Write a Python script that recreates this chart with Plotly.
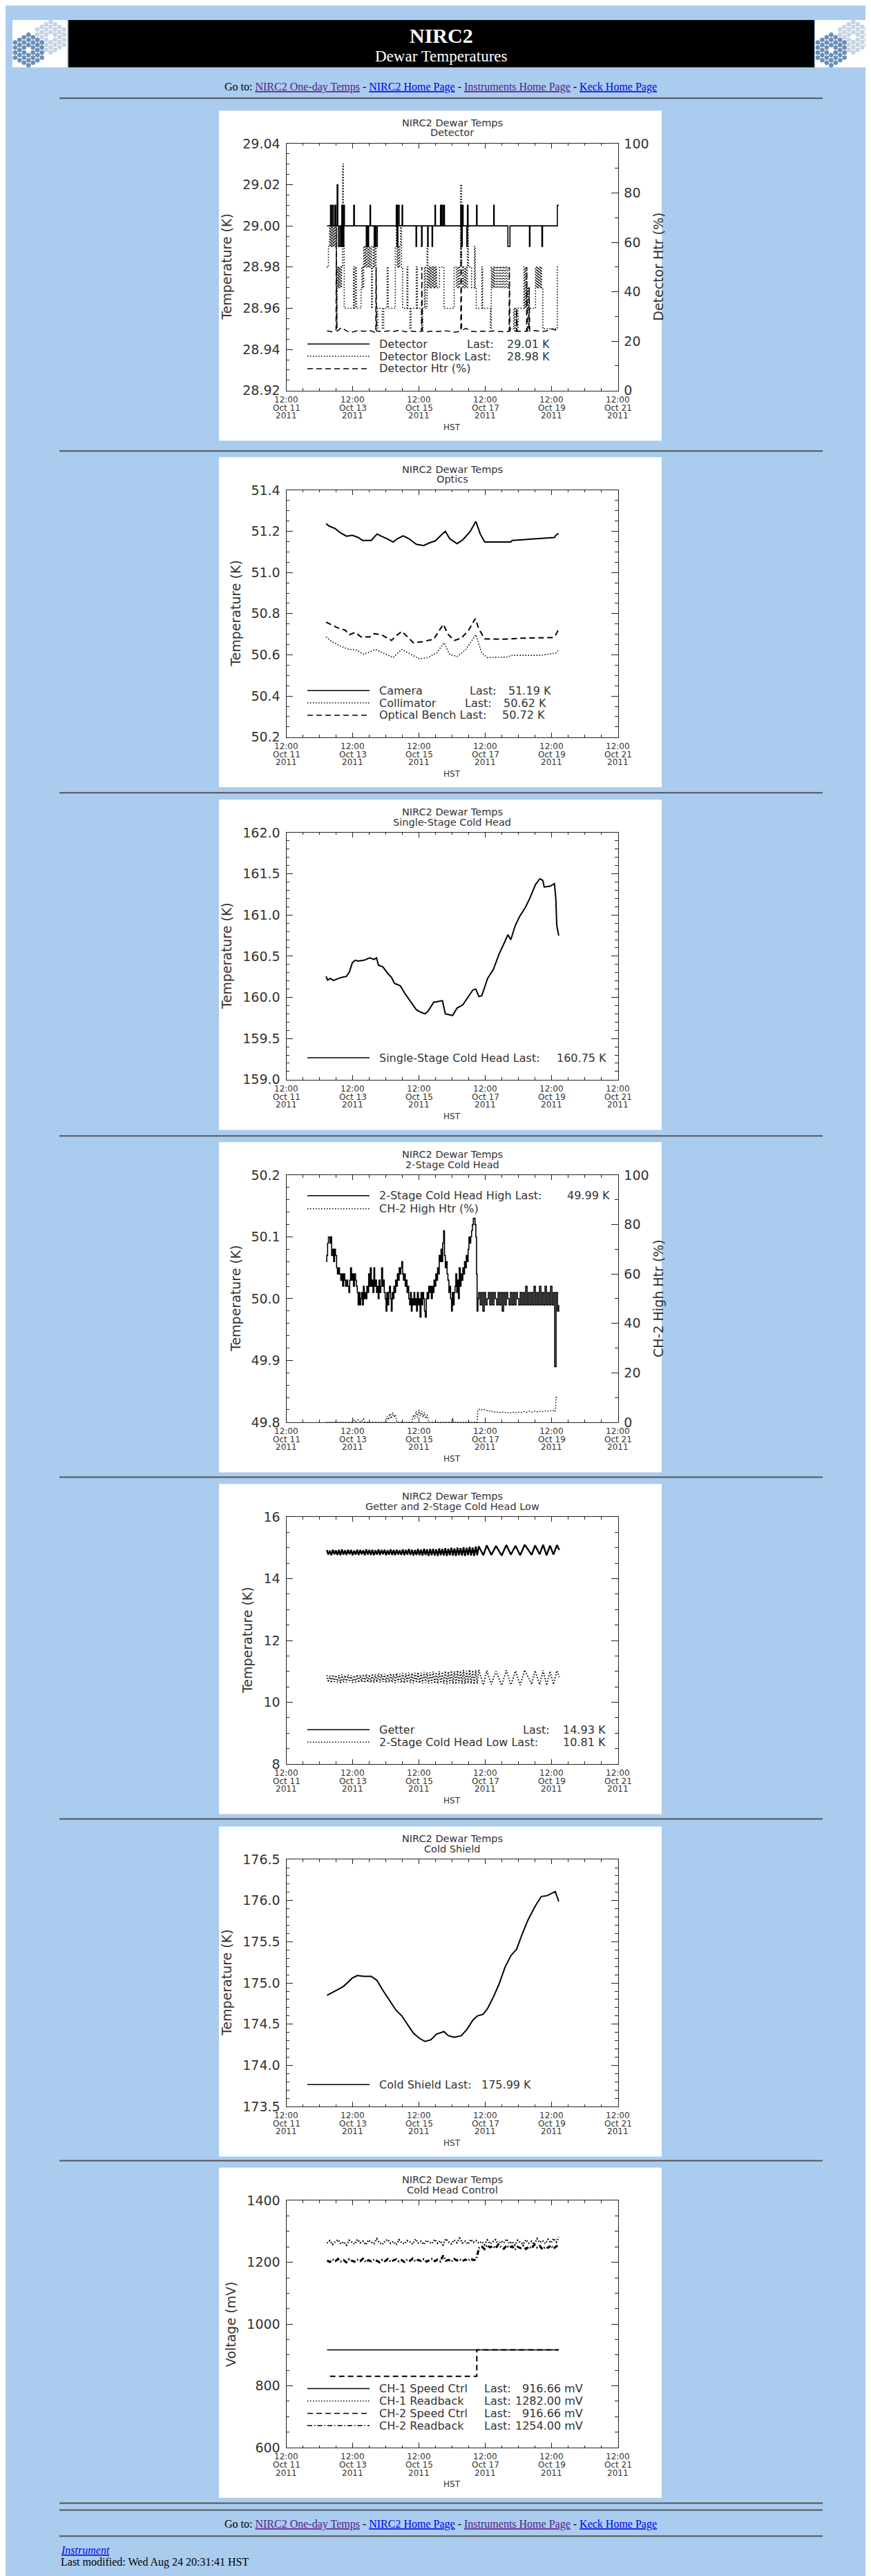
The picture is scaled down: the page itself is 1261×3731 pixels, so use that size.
import pandas as pd
import plotly.graph_objects as go

W, H = 1261, 3731
PAGE_BG = "#AACCEE"
AX = "#222222"
TXT = "#333333"
PLOT_FONT = "DejaVu Sans"
SERIF = "Liberation Serif"
BASE = pd.Timestamp("2011-10-11 12:00")   # all series times are hours after this

# ---- x tick labels (shared by every panel)
TICK_DATES = ["2011-10-11 12:00", "2011-10-13 12:00", "2011-10-15 12:00",
              "2011-10-17 12:00", "2011-10-19 12:00", "2011-10-21 12:00"]
TICK_TIME = ["12:00", "12:00", "12:00", "12:00", "12:00", "12:00"]
TICK_DAY = ["Oct 11", "Oct 13", "Oct 15", "Oct 17", "Oct 19", "Oct 21"]
TICK_YEAR = ["2011", "2011", "2011", "2011", "2011", "2011"]

# ---- y tick labels
P1_YTICKS = [28.92, 28.94, 28.96, 28.98, 29.00, 29.02, 29.04]
PCT_TICKS = [0, 20, 40, 60, 80, 100]
P2_YTICKS = [50.2, 50.4, 50.6, 50.8, 51.0, 51.2, 51.4]
P3_YTICKS = [159.0, 159.5, 160.0, 160.5, 161.0, 161.5, 162.0]
P4_YTICKS = [49.8, 49.9, 50.0, 50.1, 50.2]
P5_YTICKS = [8, 10, 12, 14, 16]
P6_YTICKS = [173.5, 174.0, 174.5, 175.0, 175.5, 176.0, 176.5]
P7_YTICKS = [600, 800, 1000, 1200, 1400]

# ---- panel 1: detector
DET_T = [29.5, 32.0, 32.8, 33.7, 34.1, 35.2, 35.8, 36.8, 37.3, 37.7,
         38.7, 39.6, 40.2, 41.0, 41.7, 42.1, 48.8, 49.3, 57.9, 58.5,
         58.9, 59.6, 60.6, 61.0, 63.6, 64.4, 65.0, 65.9, 79.6, 80.2,
         80.8, 81.7, 83.8, 84.2, 93.9, 94.3, 97.9, 98.3, 102.3, 102.7,
         105.5, 105.9, 107.6, 108.0, 111.6, 112.4, 112.8, 113.7, 114.1, 114.5,
         126.3, 126.7, 127.4, 128.0, 130.7, 131.1, 131.6, 137.7, 138.1, 150.1,
         150.5, 160.4, 161.9, 176.0, 176.4, 185.0, 185.5, 196.2, 197.2]
DET_K = [29.00, 29.01, 29.00, 29.01, 29.00, 29.01, 29.00, 29.02, 29.00, 28.99,
         29.00, 28.99, 29.01, 28.99, 29.01, 29.00, 29.01, 29.00, 28.99, 29.00,
         28.99, 29.00, 29.01, 29.00, 28.99, 29.00, 28.99, 29.00, 29.01, 28.99,
         29.01, 29.00, 29.01, 29.00, 28.99, 29.00, 28.99, 29.00, 28.99, 29.00,
         28.99, 29.00, 29.01, 29.00, 29.01, 29.00, 29.01, 29.00, 29.01, 29.00,
         29.01, 28.99, 29.01, 29.00, 28.99, 29.01, 29.00, 29.01, 29.00, 29.01,
         29.00, 28.99, 29.00, 28.99, 29.00, 28.99, 29.00, 29.01, 29.01]

BLOCK_T = [29.3, 30.5, 31.4, 31.8, 32.4, 32.8, 33.5, 33.9, 34.5, 34.9,
           35.6, 36.2, 36.8, 37.5, 37.9, 38.5, 38.9, 39.6, 40.0, 40.8,
           41.3, 41.9, 48.6, 49.3, 50.1, 50.7, 54.1, 54.7, 55.4, 56.0,
           56.6, 57.3, 57.9, 58.5, 59.2, 59.8, 60.4, 61.0, 61.7, 62.3,
           62.9, 63.6, 64.2, 65.0, 66.1, 69.5, 70.5, 73.0, 73.7, 78.9,
           79.6, 80.2, 80.8, 81.5, 82.1, 82.7, 83.4, 84.2, 87.4, 88.0,
           89.5, 90.3, 94.1, 94.9, 97.9, 98.7, 100.0, 100.6, 101.9, 102.5,
           103.1, 103.8, 104.4, 105.0, 105.7, 106.3, 106.9, 107.6, 108.2, 108.8,
           110.9, 114.1, 121.5, 123.1, 124.0, 124.6, 125.5, 126.1, 126.9, 127.6,
           128.2, 129.0, 129.7, 130.3, 131.1, 131.8, 134.1, 136.2, 136.8, 137.5,
           141.5, 142.1, 147.8, 148.4, 149.0, 149.7, 150.3, 150.9, 152.0, 153.0,
           154.1, 155.1, 156.2, 157.2, 158.3, 159.3, 160.4, 161.5, 164.6, 165.2,
           166.1, 166.7, 167.8, 172.0, 172.6, 173.2, 173.9, 174.5, 175.1, 175.8,
           180.4, 181.0, 181.7, 182.3, 182.9, 183.6, 184.2, 184.8, 185.7, 196.2,
           197.2]
BLOCK_K = [28.98, 28.99, 29.00, 28.99, 29.00, 28.99, 29.00, 28.99, 29.00, 28.99,
           29.00, 28.95, 28.98, 28.97, 28.98, 28.97, 28.98, 28.97, 28.98, 29.03,
           28.99, 28.96, 28.98, 28.96, 28.98, 28.96, 28.97, 28.98, 28.97, 28.99,
           28.98, 28.99, 28.98, 28.99, 28.98, 28.99, 28.98, 28.99, 28.96, 28.98,
           28.99, 28.98, 28.99, 28.95, 28.96, 28.95, 28.96, 28.98, 28.96, 28.99,
           29.00, 28.98, 28.99, 28.98, 28.99, 29.00, 28.98, 28.96, 28.98, 28.96,
           28.95, 28.96, 28.98, 28.96, 28.95, 28.96, 28.98, 28.96, 28.99, 28.97,
           28.98, 28.97, 28.98, 28.97, 28.98, 28.97, 28.98, 28.97, 28.98, 28.97,
           28.98, 28.96, 28.98, 28.97, 28.98, 28.97, 28.98, 29.02, 28.98, 28.97,
           28.98, 28.97, 28.98, 28.97, 29.00, 28.98, 28.97, 28.99, 28.97, 28.96,
           28.98, 28.96, 28.95, 28.98, 28.97, 28.98, 28.97, 28.98, 28.97, 28.98,
           28.97, 28.98, 28.97, 28.98, 28.97, 28.98, 28.97, 28.95, 28.96, 28.95,
           28.96, 28.95, 28.96, 28.98, 28.96, 28.98, 28.96, 28.97, 28.95, 28.96,
           28.98, 28.97, 28.98, 28.97, 28.98, 28.97, 28.98, 28.97, 28.95, 28.98,
           28.98]

HTR_T = [29.5, 33.0, 36.0, 36.2, 36.6, 40.0, 44.0, 48.0, 52.0, 56.0,
         60.0, 64.8, 65.0, 65.4, 70.0, 74.0, 78.0, 82.0, 86.0, 90.0,
         94.0, 97.9, 98.1, 98.5, 102.0, 106.0, 110.0, 114.0, 118.0, 122.0,
         126.3, 126.5, 126.9, 130.0, 134.0, 138.0, 142.0, 146.0, 150.0, 154.0,
         158.0, 161.3, 161.5, 161.9, 165.0, 166.6, 166.8, 167.2, 172.0, 173.9,
         174.1, 174.5, 175.6, 175.8, 176.2, 180.0, 184.0, 188.0, 192.0, 196.0, 197.2]
HTR_PCT = [24.2, 23.8, 24.5, 66.0, 24.0, 25.5, 24.0, 23.7, 24.3, 24.0,
           24.4, 23.5, 50.0, 24.1, 23.9, 24.2, 24.0, 24.5, 23.8, 24.1,
           23.9, 24.0, 50.0, 24.2, 23.8, 24.1, 23.9, 24.3, 24.0, 23.7,
           24.0, 66.0, 24.4, 25.2, 24.0, 23.8, 24.1, 23.9, 24.2, 24.0,
           23.8, 24.0, 50.0, 24.2, 24.3, 24.0, 33.0, 24.0, 24.1, 24.0,
           50.0, 24.2, 24.0, 42.0, 24.1, 24.3, 23.9, 24.1, 25.0, 24.4, 24.0]

# ---- panel 2: optics
CAM_T = [28.8, 30.9, 35.2, 39.4, 43.6, 47.8, 52.0, 55.2, 61.5, 65.7,
         68.8, 73.0, 77.3, 80.4, 84.6, 88.8, 94.1, 99.4, 103.6, 107.8,
         112.0, 115.1, 118.3, 123.6, 127.8, 133.0, 137.2, 140.4, 143.6, 162.5,
         163.6, 182.5, 194.1, 195.1, 197.2]
CAM_K = [51.237, 51.226, 51.214, 51.192, 51.176, 51.181, 51.170, 51.156, 51.156, 51.187,
         51.176, 51.164, 51.148, 51.164, 51.178, 51.164, 51.137, 51.131, 51.144, 51.153,
         51.181, 51.200, 51.164, 51.140, 51.159, 51.198, 51.248, 51.187, 51.148, 51.148,
         51.156, 51.164, 51.170, 51.181, 51.190]
COLL_T = [28.8, 33.0, 39.4, 45.7, 49.9, 56.2, 64.6, 71.9, 77.3, 83.6,
          89.9, 96.2, 102.5, 108.8, 114.1, 118.3, 123.6, 129.9, 137.2, 141.5,
          145.7, 159.4, 163.6, 184.6, 195.1, 196.8]
COLL_K = [50.687, 50.664, 50.642, 50.626, 50.626, 50.603, 50.626, 50.603, 50.587, 50.626,
          50.603, 50.581, 50.587, 50.609, 50.659, 50.603, 50.592, 50.626, 50.698, 50.609,
          50.587, 50.589, 50.598, 50.598, 50.609, 50.620]
BENCH_T = [28.8, 32.0, 37.3, 42.6, 45.7, 49.9, 54.1, 60.4, 63.6, 68.8,
           76.2, 79.4, 83.6, 87.8, 92.0, 98.3, 106.7, 110.9, 113.7, 117.3,
           121.5, 126.7, 132.0, 136.8, 139.4, 143.6, 157.2, 169.9, 193.0, 195.1, 196.8]
BENCH_K = [50.759, 50.748, 50.731, 50.720, 50.698, 50.709, 50.687, 50.687, 50.703, 50.698,
           50.670, 50.692, 50.714, 50.687, 50.659, 50.664, 50.676, 50.720, 50.748, 50.698,
           50.670, 50.681, 50.720, 50.776, 50.726, 50.678, 50.676, 50.681, 50.684, 50.698, 50.720]

# ---- panel 3: single-stage cold head
SS_T = [28.8, 29.9, 32.0, 34.1, 39.4, 43.6, 45.7, 47.8, 49.9, 52.0,
        56.2, 60.4, 63.6, 65.3, 66.7, 69.9, 73.0, 76.2, 78.3, 82.5,
        85.7, 89.9, 94.1, 97.3, 100.4, 102.5, 106.7, 113.0, 115.1, 120.4,
        123.6, 127.8, 132.0, 135.1, 137.2, 139.4, 141.5, 145.7, 149.9, 154.1,
        157.2, 160.4, 162.5, 165.7, 168.8, 173.0, 176.2, 180.4, 183.6, 185.7,
        186.7, 190.9, 194.1, 195.1, 195.8, 197.2]
SS_K = [160.256, 160.21, 160.23, 160.205, 160.24, 160.255, 160.31, 160.42, 160.45, 160.44,
        160.45, 160.48, 160.46, 160.48, 160.39, 160.37, 160.30, 160.24, 160.17, 160.14,
        160.05, 159.95, 159.85, 159.82, 159.80, 159.83, 159.94, 159.96, 159.80, 159.78,
        159.87, 159.91, 160.02, 160.09, 160.10, 160.01, 160.02, 160.23, 160.34, 160.53,
        160.64, 160.76, 160.70, 160.87, 160.98, 161.09, 161.20, 161.37, 161.44, 161.42,
        161.34, 161.35, 161.38, 161.20, 160.87, 160.75]

# ---- panel 4: 2-stage cold head high + heater
CH2HI_T = [28.8, 29.3, 29.9, 30.5, 31.6, 32.2, 32.8, 33.7, 34.3, 34.9,
           35.6, 36.4, 37.0, 37.7, 38.5, 39.4, 40.0, 40.8, 41.5, 42.3,
           42.9, 43.8, 44.4, 45.3, 45.9, 46.5, 47.2, 47.8, 48.6, 49.3,
           50.1, 50.7, 51.4, 52.0, 52.6, 53.3, 53.9, 54.5, 55.2, 55.8,
           56.4, 57.0, 57.7, 58.3, 58.9, 59.6, 60.2, 60.8, 61.5, 62.1,
           62.7, 63.4, 64.0, 64.6, 65.3, 65.9, 66.5, 67.1, 67.8, 68.4,
           69.0, 69.7, 70.3, 70.9, 71.6, 72.2, 72.8, 73.5, 74.1, 74.7,
           75.4, 76.0, 76.6, 77.3, 77.9, 78.5, 79.1, 79.8, 80.4, 81.0,
           81.7, 82.3, 82.9, 83.6, 84.2, 84.8, 85.5, 86.1, 86.7, 87.4,
           88.0, 88.6, 89.3, 89.9, 90.5, 91.1, 91.8, 92.4, 93.0, 93.7,
           94.3, 94.9, 95.6, 96.2, 96.8, 97.5, 98.1, 98.7, 99.4, 100.0,
           100.6, 101.3, 101.9, 102.5, 103.1, 103.8, 104.4, 105.0, 105.7, 106.3,
           106.9, 107.6, 108.2, 108.8, 109.5, 110.1, 110.7, 111.4, 112.0, 112.6,
           113.2, 113.9, 114.5, 115.1, 115.8, 116.4, 117.0, 117.7, 118.3, 118.9,
           119.6, 120.2, 120.8, 121.5, 122.1, 122.7, 123.4, 124.0, 124.6, 125.2,
           125.9, 126.5, 127.1, 127.8, 128.4, 129.0, 129.7, 130.3, 130.9, 131.6,
           132.2, 132.8, 133.5, 134.1, 134.7, 135.4, 136.6, 137.2, 137.7, 138.1,
           138.7, 139.3, 140.3, 141.3, 142.3, 143.3, 144.3, 145.3, 146.3, 147.3,
           148.3, 149.3, 150.3, 151.3, 152.3, 153.3, 154.3, 155.3, 156.3, 157.3,
           158.3, 159.3, 160.3, 161.3, 162.3, 163.3, 164.3, 165.3, 166.3, 167.3,
           168.3, 169.3, 170.3, 171.3, 172.3, 173.3, 174.3, 175.3, 176.3, 177.3,
           178.3, 179.3, 180.3, 181.3, 182.3, 183.3, 184.3, 185.3, 186.3, 187.3,
           188.3, 189.3, 190.3, 191.3, 192.3, 193.3, 194.3, 195.3, 196.3, 197.2]
CH2HI_K = [50.06, 50.07, 50.09, 50.10, 50.09, 50.10, 50.07, 50.08, 50.06, 50.08,
           50.07, 50.05, 50.04, 50.05, 50.04, 50.03, 50.04, 50.02, 50.04, 50.03,
           50.02, 50.03, 50.02, 50.01, 50.03, 50.05, 50.03, 50.04, 50.02, 50.04,
           50.03, 50.02, 50.01, 49.99, 50.01, 49.99, 50.00, 50.01, 49.99, 50.02,
           50.00, 50.01, 50.00, 50.02, 50.01, 50.04, 50.02, 50.05, 50.02, 50.03,
           50.01, 50.05, 50.02, 50.03, 50.01, 50.02, 50.00, 50.03, 50.01, 50.02,
           50.05, 50.02, 50.03, 50.01, 50.00, 49.98, 50.01, 49.99, 50.01, 50.02,
           50.00, 49.98, 50.01, 50.00, 50.02, 50.01, 50.03, 50.02, 50.04, 50.03,
           50.05, 50.04, 50.05, 50.06, 50.04, 50.03, 50.04, 50.02, 50.03, 50.01,
           50.02, 50.00, 49.99, 50.01, 49.98, 50.00, 49.99, 50.01, 49.99, 50.00,
           49.98, 50.01, 49.99, 50.00, 49.97, 50.01, 49.99, 50.01, 50.00, 49.98,
           49.97, 50.00, 50.01, 50.00, 50.02, 50.01, 50.02, 50.00, 50.02, 50.01,
           50.03, 50.02, 50.04, 50.03, 50.05, 50.04, 50.07, 50.06, 50.08, 50.06,
           50.09, 50.11, 50.07, 50.05, 50.06, 50.04, 50.03, 50.01, 50.02, 50.00,
           49.98, 50.01, 49.99, 50.01, 50.02, 50.04, 50.01, 50.03, 50.00, 50.05,
           50.02, 50.04, 50.03, 50.05, 50.04, 50.06, 50.05, 50.07, 50.06, 50.08,
           50.10, 50.09, 50.10, 50.11, 50.12, 50.13, 50.12, 50.10, 50.04, 49.98,
           50.00, 50.01, 49.99, 50.01, 49.98, 50.01, 49.99, 50.00, 50.01, 49.99,
           50.01, 49.99, 50.01, 50.00, 49.99, 50.01, 49.99, 50.01, 49.98, 50.01,
           49.99, 50.01, 50.00, 49.99, 50.01, 49.99, 50.01, 49.99, 50.01, 50.00,
           49.99, 50.01, 49.99, 50.01, 49.99, 50.02, 49.99, 50.01, 49.99, 50.01,
           49.99, 50.02, 49.99, 50.01, 49.99, 50.02, 49.99, 50.01, 49.99, 50.02,
           49.99, 50.01, 49.99, 50.02, 49.99, 50.01, 49.89, 50.01, 49.98, 49.99]

CH2HTR_T = [28.8, 47.5, 48.5, 50.0, 52.0, 54.0, 56.0, 57.0, 72.0, 73.0,
            74.0, 75.0, 76.0, 77.0, 78.0, 79.0, 80.0, 91.0, 92.0, 93.0,
            94.0, 95.0, 96.0, 97.0, 98.0, 99.0, 100.0, 101.0, 102.0, 103.0,
            120.0, 120.4, 121.0, 138.2, 138.6, 140.0, 142.0, 144.0, 146.0, 148.0,
            150.0, 152.0, 154.0, 156.0, 158.0, 160.0, 162.0, 164.0, 166.0, 168.0,
            170.0, 172.0, 174.0, 176.0, 178.0, 180.0, 182.0, 184.0, 186.0, 188.0,
            190.0, 192.0, 194.0, 194.6, 195.4, 195.8]
CH2HTR_PCT = [0, 0, 1.2, 0, 1.0, 0, 1.3, 0, 0, 2.5,
              1.0, 3.5, 1.5, 4.0, 2.0, 3.0, 0, 0, 3.0, 1.5,
              4.5, 2.0, 5.0, 2.5, 4.5, 2.0, 4.0, 1.5, 3.0, 0,
              0, 1.8, 0, 0, 5.0, 5.3, 4.9, 5.1, 4.5, 4.6,
              4.0, 4.3, 3.8, 4.1, 3.9, 4.0, 3.7, 4.0, 3.8, 4.1,
              3.9, 4.3, 4.0, 4.4, 4.1, 4.5, 4.2, 4.5, 4.3, 4.6,
              4.4, 4.8, 4.6, 4.3, 10.5, 9.8]

# ---- panel 5: getter and 2-stage cold head low
GETTER_T = [29.3, 30.4, 31.5, 32.6, 33.7, 34.8, 35.9, 37.0, 38.1, 39.2,
            40.3, 41.4, 42.5, 43.6, 44.7, 45.8, 46.9, 48.0, 49.1, 50.2,
            51.3, 52.4, 53.5, 54.6, 55.7, 56.8, 57.9, 59.0, 60.1, 61.2,
            62.3, 63.4, 64.5, 65.6, 66.7, 67.8, 68.9, 70.0, 71.1, 72.2,
            73.3, 74.4, 75.5, 76.6, 77.7, 78.8, 79.9, 81.0, 82.1, 83.2,
            84.3, 85.4, 86.5, 87.6, 88.7, 89.8, 90.9, 92.0, 93.1, 94.2,
            95.3, 96.4, 97.5, 98.6, 99.7, 100.8, 101.9, 103.0, 104.1, 105.2,
            106.3, 107.4, 108.5, 109.6, 110.7, 111.8, 112.9, 114.0, 115.1, 116.2,
            117.3, 118.4, 119.5, 120.6, 121.7, 122.8, 123.9, 125.0, 126.1, 127.2,
            128.3, 129.4, 130.5, 131.6, 132.7, 133.8, 134.9, 136.0, 137.1, 138.2,
            139.3, 142.6, 145.1, 148.4, 151.8, 155.9, 159.3, 162.6, 165.9, 169.3,
            172.6, 177.6, 180.1, 183.4, 185.9, 188.4, 190.9, 193.4, 195.9, 197.6]
GETTER_K = [14.93, 14.78, 14.91, 14.76, 14.94, 14.79, 14.92, 14.77, 14.93, 14.76,
            14.95, 14.78, 14.92, 14.77, 14.94, 14.79, 14.93, 14.76, 14.91, 14.78,
            14.94, 14.77, 14.93, 14.79, 14.92, 14.76, 14.95, 14.78, 14.93, 14.77,
            14.94, 14.76, 14.92, 14.78, 14.95, 14.77, 14.93, 14.79, 14.94, 14.76,
            14.92, 14.78, 14.95, 14.77, 14.93, 14.76, 14.94, 14.78, 14.92, 14.77,
            14.95, 14.76, 14.93, 14.78, 14.96, 14.77, 14.94, 14.75, 14.93, 14.77,
            14.96, 14.76, 14.94, 14.75, 14.97, 14.77, 14.95, 14.74, 14.96, 14.76,
            14.97, 14.75, 14.95, 14.74, 14.98, 14.76, 14.96, 14.75, 14.99, 14.74,
            14.97, 14.76, 15.00, 14.75, 14.98, 14.74, 15.01, 14.76, 14.99, 14.75,
            15.02, 14.74, 15.00, 14.76, 15.03, 14.75, 15.01, 14.74, 15.04, 14.76,
            15.05, 14.76, 15.08, 14.77, 15.06, 14.75, 15.09, 14.78, 15.07, 14.76,
            15.10, 14.77, 15.08, 14.79, 15.10, 14.76, 15.07, 14.78, 15.09, 14.93]
CH2LO_K = [10.88, 10.65, 10.86, 10.63, 10.89, 10.66, 10.87, 10.64, 10.88, 10.62,
           10.90, 10.65, 10.87, 10.64, 10.89, 10.66, 10.88, 10.63, 10.86, 10.65,
           10.89, 10.64, 10.88, 10.66, 10.90, 10.63, 10.91, 10.65, 10.89, 10.64,
           10.92, 10.63, 10.90, 10.65, 10.93, 10.64, 10.91, 10.66, 10.92, 10.63,
           10.90, 10.65, 10.93, 10.64, 10.91, 10.62, 10.94, 10.65, 10.92, 10.63,
           10.95, 10.62, 10.93, 10.64, 10.96, 10.63, 10.94, 10.61, 10.95, 10.63,
           10.97, 10.62, 10.95, 10.61, 10.98, 10.63, 10.96, 10.60, 10.97, 10.62,
           10.99, 10.61, 10.97, 10.60, 11.00, 10.62, 10.98, 10.60, 11.01, 10.59,
           10.99, 10.61, 11.02, 10.60, 11.00, 10.59, 11.03, 10.61, 11.01, 10.60,
           11.04, 10.59, 11.02, 10.61, 11.05, 10.60, 11.03, 10.58, 11.04, 10.60,
           11.05, 10.56, 11.02, 10.58, 11.00, 10.55, 11.03, 10.57, 11.01, 10.56,
           11.04, 10.58, 11.02, 10.57, 11.03, 10.55, 11.00, 10.58, 11.02, 10.81]

# ---- panel 6: cold shield
CS_T = [29.5, 33.0, 37.3, 41.5, 44.6, 47.8, 51.4, 56.2, 61.5, 65.7,
        69.9, 75.2, 79.4, 83.6, 87.8, 92.0, 96.2, 100.4, 104.6, 108.8,
        114.1, 117.3, 121.5, 126.7, 130.9, 135.1, 138.3, 142.5, 145.7, 149.9,
        154.1, 158.3, 162.5, 166.7, 170.9, 175.1, 180.4, 184.6, 188.8, 193.0,
        194.7, 197.2]
CS_K = [174.85, 174.88, 174.92, 174.96, 175.01, 175.06, 175.09, 175.08, 175.08, 175.03,
        174.91, 174.77, 174.67, 174.60, 174.49, 174.39, 174.33, 174.29, 174.31, 174.38,
        174.41, 174.36, 174.34, 174.36, 174.44, 174.55, 174.60, 174.62, 174.69, 174.83,
        174.99, 175.19, 175.33, 175.41, 175.60, 175.77, 175.94, 176.05, 176.06, 176.10,
        176.11, 175.99]

# ---- panel 7: cold head control
SPD1_T = [29.5, 197.2]
SPD1_MV = [916.66, 916.66]
SPD2_T = [31.6, 137.9, 137.9, 197.2]
SPD2_MV = [831.0, 831.0, 916.66, 916.66]
RB_T = [29.5, 31.5, 33.5, 35.5, 37.5, 39.5, 41.5, 43.5, 45.5, 47.5,
        49.5, 51.5, 53.5, 55.5, 57.5, 59.5, 61.5, 63.5, 65.5, 67.5,
        69.5, 71.5, 73.5, 75.5, 77.5, 79.5, 81.5, 83.5, 85.5, 87.5,
        89.5, 91.5, 93.5, 95.5, 97.5, 99.5, 101.5, 103.5, 105.5, 107.5,
        109.5, 111.5, 113.5, 115.5, 117.5, 119.5, 121.5, 123.5, 125.5, 127.5,
        129.5, 131.5, 133.5, 135.5, 137.5, 139.5, 141.5, 143.5, 145.5, 147.5,
        149.5, 151.5, 153.5, 155.5, 157.5, 159.5, 161.5, 163.5, 165.5, 167.5,
        169.5, 171.5, 173.5, 175.5, 177.5, 179.5, 181.5, 183.5, 185.5, 187.5,
        189.5, 191.5, 193.5, 195.5, 197.2]
RB1_MV = [1262, 1270, 1258, 1267, 1273, 1260, 1266, 1256, 1271, 1264,
          1259, 1274, 1263, 1268, 1257, 1272, 1265, 1261, 1276, 1263,
          1258, 1269, 1274, 1262, 1267, 1257, 1273, 1264, 1260, 1270,
          1266, 1259, 1275, 1263, 1268, 1258, 1271, 1265, 1261, 1274,
          1262, 1269, 1257, 1276, 1266, 1260, 1272, 1264, 1278, 1263,
          1268, 1259, 1274, 1265, 1270, 1262, 1267, 1257, 1272, 1260,
          1266, 1273, 1258, 1269, 1263, 1275, 1261, 1267, 1256, 1271,
          1264, 1259, 1273, 1262, 1268, 1258, 1276, 1264, 1270, 1261,
          1274, 1263, 1277, 1266, 1282]
RB2_MV = [1206, 1201, 1209, 1204, 1211, 1203, 1207, 1200, 1210, 1205,
          1202, 1208, 1204, 1212, 1201, 1207, 1203, 1209, 1205, 1200,
          1208, 1204, 1211, 1202, 1206, 1210, 1203, 1207, 1201, 1209,
          1205, 1212, 1203, 1208, 1204, 1210, 1202, 1207, 1211, 1204,
          1209, 1203, 1222, 1205, 1208, 1202, 1211, 1206, 1210, 1204,
          1209, 1205, 1212, 1207, 1210, 1246, 1251, 1243, 1256, 1248,
          1253, 1245, 1258, 1249, 1244, 1255, 1247, 1252, 1241, 1250,
          1246, 1254, 1243, 1251, 1245, 1257, 1248, 1253, 1242, 1250,
          1247, 1255, 1244, 1252, 1254]

for a, b in [(DET_T, DET_K), (BLOCK_T, BLOCK_K), (HTR_T, HTR_PCT), (CAM_T, CAM_K),
             (COLL_T, COLL_K), (BENCH_T, BENCH_K), (SS_T, SS_K), (CH2HI_T, CH2HI_K),
             (CH2HTR_T, CH2HTR_PCT), (GETTER_T, GETTER_K), (GETTER_T, CH2LO_K),
             (CS_T, CS_K), (RB_T, RB1_MV), (RB_T, RB2_MV)]:
    assert len(a) == len(b), (len(a), len(b))

# ---- page geometry (pixels)
PANEL_TOPS = [142, 647, 1146, 1645, 2143, 2642, 3139]
RULES = [124, 638, 1136, 1636, 2133, 2631, 3129, 3628, 3638, 3676]
PLOT_L, PLOT_R = 406.5, 886.5
LEG_SIZE = 16

DOT = "1.5px,2.5px"
DASH = "8px,5px"
DASHDOT = "7px,3px,1.5px,3px"
STYLE = {"solid": None, "dot": DOT, "dash": DASH, "dashdot": DASHDOT}

PANELS = [
    dict(sub="Detector", ytitle="Temperature (K)", ytx=320, ticks=P1_YTICKS, fmt=".2f", minor=0.005),
    dict(sub="Optics", ytitle="Temperature (K)", ytx=333, ticks=P2_YTICKS, fmt=".1f", minor=0.05),
    dict(sub="Single-Stage Cold Head", ytitle="Temperature (K)", ytx=320, ticks=P3_YTICKS, fmt=".1f", minor=0.1),
    dict(sub="2-Stage Cold Head", ytitle="Temperature (K)", ytx=333, ticks=P4_YTICKS, fmt=".1f", minor=0.02),
    dict(sub="Getter and 2-Stage Cold Head Low", ytitle="Temperature (K)", ytx=350, ticks=P5_YTICKS, fmt="d", minor=0.5),
    dict(sub="Cold Shield", ytitle="Temperature (K)", ytx=320, ticks=P6_YTICKS, fmt=".1f", minor=0.1),
    dict(sub="Cold Head Control", ytitle="Voltage (mV)", ytx=326, ticks=P7_YTICKS, fmt="d", minor=50),
]

# (style, label, x of a padded "Last:" or None, value text, right end of value)
LEGENDS = [
    [("solid", "Detector", 666, "29.01 K", 790), ("dot", "Detector Block Last:", None, "28.98 K", 790),
     ("dash", "Detector Htr (%)", None, "", None)],
    [("solid", "Camera", 669.5, "51.19 K", 791.6), ("dot", "Collimator", 663, "50.62 K", 785),
     ("dash", "Optical Bench Last:", None, "50.72 K", 783)],
    [("solid", "Single-Stage Cold Head Last:", None, "160.75 K", 872)],
    [("solid", "2-Stage Cold Head High Last:", None, "49.99 K", 876.6), ("dot", "CH-2 High Htr (%)", None, "", None)],
    [("solid", "Getter", 747, "14.93 K", 871), ("dot", "2-Stage Cold Head Low Last:", None, "10.81 K", 871)],
    [("solid", "Cold Shield Last:", None, "175.99 K", 763)],
    [("solid", "CH-1 Speed Ctrl", 690.6, "916.66 mV", 838), ("dot", "CH-1 Readback", 690.6, "1282.00 mV", 838),
     ("dash", "CH-2 Speed Ctrl", 690.6, "916.66 mV", 838), ("dashdot", "CH-2 Readback", 690.6, "1254.00 mV", 838)],
]
LEGEND_AT_TOP = [False, False, False, True, False, False, False]


def X(p):
    return p / W


def Y(p):
    return 1 - p / H


def when(hours):
    return [BASE + pd.Timedelta(hours=h) for h in hours]


annotations = []
shapes = []


def text(x, y, s, size, color=TXT, xanchor="center", yanchor="middle", angle=0, family=PLOT_FONT):
    annotations.append(dict(x=X(x), y=Y(y), xref="paper", yref="paper", text=s, showarrow=False,
                            xanchor=xanchor, yanchor=yanchor, textangle=angle,
                            font=dict(family=family, size=size, color=color)))


def rect(x0, y0, x1, y1, color):
    shapes.append(dict(type="rect", xref="paper", yref="paper", x0=X(x0), x1=X(x1), y0=Y(y1), y1=Y(y0),
                       fillcolor=color, line=dict(width=0), layer="below"))


def hline(x0, x1, y, color, width, dash=None):
    shapes.append(dict(type="line", xref="paper", yref="paper", x0=X(x0), x1=X(x1), y0=Y(y), y1=Y(y),
                       line=dict(color=color, width=width, dash=dash), layer="above"))


fig = go.Figure()


def line(k, t, v, dash=None, width=2.0, shape="linear", yaxis=None):
    sx = "" if k == 1 else str(k)
    fig.add_trace(go.Scatter(x=when(t), y=v, mode="lines", xaxis="x" + sx, yaxis=yaxis or ("y" + sx),
                             line=dict(color="black", width=width, dash=dash, shape=shape),
                             showlegend=False, hoverinfo="skip"))


# panel traces
line(1, DET_T, DET_K, width=1.6, shape="hv")
line(1, BLOCK_T, BLOCK_K, dash=DOT, width=1.6, shape="hv")
line(1, HTR_T, HTR_PCT, dash=DASH, width=1.5, yaxis="y8")
line(2, CAM_T, CAM_K)
line(2, COLL_T, COLL_K, dash=DOT, width=1.6)
line(2, BENCH_T, BENCH_K, dash=DASH)
line(3, SS_T, SS_K)
line(4, CH2HI_T, CH2HI_K, width=1.6, shape="hv")
line(4, CH2HTR_T, CH2HTR_PCT, dash=DOT, width=1.5, yaxis="y9")
line(5, GETTER_T, GETTER_K, width=2.4)
line(5, GETTER_T, CH2LO_K, dash=DOT, width=2)
line(6, CS_T, CS_K)
line(7, SPD1_T, SPD1_MV, width=1.5)
line(7, RB_T, RB1_MV, dash=DOT, width=2.5)
line(7, SPD2_T, SPD2_MV, dash=DASH, width=2)
line(7, RB_T, RB2_MV, dash=DASHDOT, width=3)

axes = {}
tickfont = dict(family=PLOT_FONT, size=19, color=TXT)
for k, (top, cfg) in enumerate(zip(PANEL_TOPS, PANELS), start=1):
    sx = "" if k == 1 else str(k)
    p_top, p_bot = top + 48, top + 408
    has_right = k in (1, 4)
    rect(309, top, 950, top + 481, "white")
    axes["xaxis" + sx] = dict(
        domain=[X(PLOT_L), X(PLOT_R)], anchor="y" + sx, type="date",
        range=[TICK_DATES[0], TICK_DATES[-1]], tickmode="array", tickvals=TICK_DATES,
        showticklabels=False, ticks="inside", ticklen=7, tickwidth=1, tickcolor=AX,
        showline=True, linecolor=AX, linewidth=1, mirror="ticks", showgrid=False, zeroline=False,
        minor=dict(ticks="inside", ticklen=3.5, tickwidth=1, tickcolor=AX, dtick=12 * 3600 * 1000,
                   tick0=TICK_DATES[0], showgrid=False))
    axes["yaxis" + sx] = dict(
        domain=[Y(p_bot), Y(p_top)], anchor="x" + sx, range=[cfg["ticks"][0], cfg["ticks"][-1]],
        tickmode="array", tickvals=cfg["ticks"], tickformat=cfg["fmt"], tickfont=tickfont,
        ticks="inside", ticklen=9.6, tickwidth=1, tickcolor=AX, ticklabelstandoff=4,
        showline=True, linecolor=AX, linewidth=1, mirror=False if has_right else "ticks",
        showgrid=False, zeroline=False,
        minor=dict(ticks="inside", ticklen=4.8, tickwidth=1, tickcolor=AX, dtick=cfg["minor"],
                   tick0=cfg["ticks"][0], showgrid=False))

    # titles and axis labels
    text(646.5, top + 18, "NIRC2 Dewar Temps", 14.5)
    text(646.5, top + 32.5, cfg["sub"], 14.5)
    text(cfg["ytx"], (p_top + p_bot) / 2, cfg["ytitle"], 19, angle=-90)
    for d, a, b, c in zip(TICK_DATES, TICK_TIME, TICK_DAY, TICK_YEAR):
        for off, s in ((13.3, a), (25, b), (36.7, c)):
            annotations.append(dict(x=d, y=Y(p_bot + off), xref="x" + sx, yref="paper", text=s,
                                    showarrow=False, xanchor="center", yanchor="middle",
                                    font=dict(family=PLOT_FONT, size=12, color=TXT)))
    text(646.5, p_bot + 53.3, "HST", 12)

    # IDL-style legend block
    rows = LEGENDS[k - 1]
    n = len(rows)
    for i, (style, name, last_x, val, val_end) in enumerate(rows):
        ry = p_top + (30 + 19 * i if LEGEND_AT_TOP[k - 1] else 328 - 18 * (n - 1 - i))
        hline(437, 527, ry, "black", 1.5, STYLE[style])
        text(539, ry, name, LEG_SIZE, xanchor="left")
        if last_x is not None:
            text(last_x, ry, "Last:", LEG_SIZE, xanchor="left")
        if val:
            text(val_end, ry, val, LEG_SIZE, xanchor="right")

for key, over, anchor in (("yaxis8", "y", "x"), ("yaxis9", "y4", "x4")):
    axes[key] = dict(
        overlaying=over, anchor=anchor, side="right", range=[0, 100], tickmode="array",
        tickvals=PCT_TICKS, tickformat="d", tickfont=tickfont, ticks="inside", ticklen=9.6,
        tickwidth=1, tickcolor=AX, ticklabelstandoff=4, showline=True, linecolor=AX, linewidth=1,
        showgrid=False, zeroline=False,
        minor=dict(ticks="inside", ticklen=4.8, tickwidth=1, tickcolor=AX, dtick=10, tick0=0, showgrid=False))
text(945, 370, "Detector Htr (%)", 19, angle=-90)
text(945, 1645 + 228, "CH-2 High Htr (%)", 19, angle=-90)

# ---- page furniture: banner, logos, rules, links
rect(10, 10, 89, 79, "white")
rect(1172, 10, 1252, 79, "white")
rect(91, 10, 1171, 79, "black")
text(631, 33, "<b>NIRC2</b>", 30, color="white", family=SERIF)
text(631, 63, "Dewar Temperatures", 23, color="white", family=SERIF)

axes["xaxis8"] = dict(domain=[0, 1], range=[0, W], visible=False, anchor="y10", fixedrange=True)
axes["yaxis10"] = dict(domain=[Y(90), 1], range=[90, 0], visible=False, anchor="x8", fixedrange=True)


def keck_mirror(cx, cy):
    xs, ys = [], []
    for i in range(-3, 4):
        n = 7 - abs(i)
        for j in range(n):
            if i == 0 and j == 3:
                continue
            xs.append(cx + i * 6.45)
            ys.append(cy + (j - (n - 1) / 2) * 7.4)
    return xs, ys


for dx in (0, 1162):
    for cx, cy, col in ((65.3, 35, "#C5D4E5"), (33.3, 53.8, "#6A8FB8")):
        xs, ys = keck_mirror(cx + dx, cy)
        fig.add_trace(go.Scatter(x=xs, y=ys, mode="markers", xaxis="x8", yaxis="y10",
                                 marker=dict(symbol="circle", size=6.6, color=col, line=dict(width=0)),
                                 showlegend=False, hoverinfo="skip"))

for ry in RULES:
    hline(78, 1183, ry, "#555555", 2)


def link(s, color):
    return '<span style="color:%s;text-decoration:underline">%s</span>' % (color, s)


VISITED, FRESH = "#551A8B", "#0000EE"
goto = ("Go to: " + link("NIRC2 One-day Temps", VISITED) + " - " + link("NIRC2 Home Page", FRESH) + " - "
        + link("Instruments Home Page", VISITED) + " - " + link("Keck Home Page", FRESH))
text(630, 108, goto, 16, color="black", family=SERIF)
text(630, 3659, goto, 16, color="black", family=SERIF)
text(78, 3696, "<i>" + link("Instrument", FRESH) + "</i>", 16, color=FRESH, xanchor="left", family=SERIF)
text(78, 3714, "Last modified: Wed Aug 24 20:31:41 HST", 16, color="black", xanchor="left", family=SERIF)

fig.update_layout(
    width=W, height=H, margin=dict(l=0, r=0, t=0, b=0),
    paper_bgcolor=PAGE_BG, plot_bgcolor="rgba(0,0,0,0)",
    showlegend=False, annotations=annotations, shapes=shapes, **axes)

fig.write_html("out.html")
